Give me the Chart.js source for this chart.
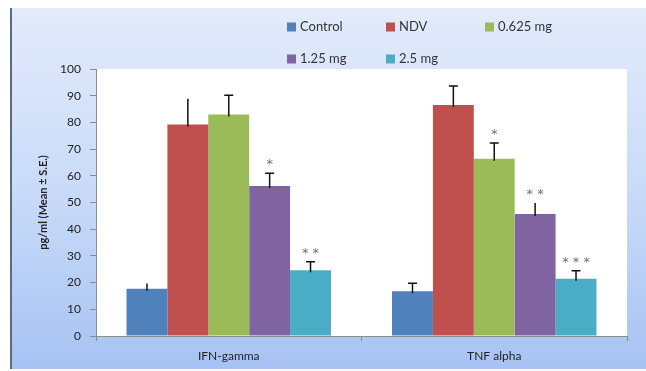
<!DOCTYPE html>
<html>
<head>
<meta charset="utf-8">
<script src="https://cdn.jsdelivr.net/npm/chart.js@4.4.1/dist/chart.umd.min.js"></script>
<style>
  html, body { margin: 0; padding: 0; background: #fff; }
  #wrap { width: 646px; height: 371px; position: relative; }
</style>
</head>
<body>
<div id="wrap"><canvas id="chart" width="646" height="371"></canvas></div>
<script>
(function () {
    "use strict";

    // data
    const categories = ["IFN-gamma", "TNF alpha"];
    const seriesNames = ["Control", "NDV", "0.625 mg", "1.25 mg", "2.5 mg"];
    const seriesColors = ["#4f81bd", "#c0504d", "#9bbb59", "#8064a2", "#4bacc6"];
    const control = [17.7, 16.8];
    const ndv = [79.2, 86.5];
    const mg0625 = [83.0, 66.4];
    const mg125 = [56.2, 45.7];
    const mg25 = [24.6, 21.4];
    // standard errors
    const errControl = [2.0, 3.0];
    const errNdv = [9.7, 7.1];
    const errMg0625 = [7.2, 5.9];
    const errMg125 = [4.8, 4.1];
    const errMg25 = [3.2, 3.0];
    // whether the error bar has a cap
    const capControl = [false, true];
    const capNdv = [false, true];
    const capMg0625 = [true, true];
    const capMg125 = [true, false];
    const capMg25 = [true, true];
    // significance marks
    const starsControl = ["", ""];
    const starsNdv = ["", ""];
    const starsMg0625 = ["", "*"];
    const starsMg125 = ["*", "**"];
    const starsMg25 = ["**", "***"];
    const yTicks = [0, 10, 20, 30, 40, 50, 60, 70, 80, 90, 100];

    const values = [control, ndv, mg0625, mg125, mg25];
    const errors = [errControl, errNdv, errMg0625, errMg125, errMg25];
    const caps = [capControl, capNdv, capMg0625, capMg125, capMg25];
    const stars = [starsControl, starsNdv, starsMg0625, starsMg125, starsMg25];

    const FONT = "Lato, 'Open Sans', sans-serif";

    // light blue frame behind the chart
    const framePlugin = {
        id: "frame",
        beforeDraw(chart) {
            const ctx = chart.ctx;
            const w = chart.width, h = chart.height;
            ctx.save();
            const g = ctx.createLinearGradient(0, 8, 0, h - 2);
            g.addColorStop(0, "#e3ebfb");
            g.addColorStop(0.5, "#c9dbf8");
            g.addColorStop(1, "#a7c3f3");
            ctx.fillStyle = g;
            ctx.fillRect(10, 8, w - 10, h - 10);
            ctx.strokeStyle = "#5b6b80";
            ctx.lineWidth = 2;
            ctx.beginPath();
            ctx.moveTo(11, 8);
            ctx.lineTo(11, h - 2);
            ctx.stroke();
            const a = chart.chartArea;
            ctx.fillStyle = "#ffffff";
            ctx.fillRect(a.left, a.top, a.right - a.left, a.bottom - a.top);
            ctx.restore();
        }
    };

    // error bars and asterisks
    const errorPlugin = {
        id: "errorBars",
        afterDatasetsDraw(chart) {
            const ctx = chart.ctx;
            const y = chart.scales.y;
            ctx.save();
            chart.data.datasets.forEach((ds, di) => {
                const meta = chart.getDatasetMeta(di);
                meta.data.forEach((bar, i) => {
                    const top = y.getPixelForValue(values[di][i] + errors[di][i]);
                    const base = y.getPixelForValue(values[di][i]);
                    ctx.strokeStyle = "#111";
                    ctx.lineWidth = 1.5;
                    ctx.beginPath();
                    ctx.moveTo(bar.x, base + 2);
                    ctx.lineTo(bar.x, top);
                    if (caps[di][i]) {
                        ctx.moveTo(bar.x - 4.5, top);
                        ctx.lineTo(bar.x + 4.5, top);
                    }
                    ctx.stroke();
                    if (stars[di][i]) {
                        ctx.fillStyle = "#707070";
                        ctx.font = "13px 'DejaVu Sans', sans-serif";
                        ctx.textAlign = "center";
                        ctx.textBaseline = "alphabetic";
                        const s = stars[di][i].split("").join(" ");
                        ctx.fillText(s, bar.x, top - 5);
                    }
                });
            });
            ctx.restore();
        }
    };

    // legend in fixed columns, two rows
    const legendPlugin = {
        id: "gridLegend",
        afterDraw(chart, args, opts) {
            const ctx = chart.ctx;
            ctx.save();
            ctx.font = "13px " + FONT;
            ctx.textBaseline = "middle";
            ctx.textAlign = "left";
            chart.data.datasets.forEach((ds, i) => {
                const col = i % opts.perRow;
                const row = Math.floor(i / opts.perRow);
                const x = opts.left + col * opts.colWidth;
                const yy = opts.top + row * opts.rowHeight;
                ctx.fillStyle = ds.backgroundColor;
                ctx.fillRect(x, yy - 4.5, 9, 9);
                ctx.fillStyle = "#333";
                ctx.fillText(ds.label, x + 13, yy);
            });
            ctx.restore();
        }
    };

    const ctx = document.getElementById("chart").getContext("2d");
    new Chart(ctx, {
        type: "bar",
        data: {
            labels: categories,
            datasets: seriesNames.map((name, i) => ({
                label: name,
                data: values[i],
                backgroundColor: seriesColors[i],
                borderWidth: 0,
                categoryPercentage: 0.77,
                barPercentage: 1.0
            }))
        },
        options: {
            responsive: false,
            animation: false,
            devicePixelRatio: 1,
            layout: { padding: { left: 10, right: 19, top: 69, bottom: 0 } },
            plugins: {
                legend: { display: false },
                tooltip: { enabled: false },
                gridLegend: { left: 287, top: 27, perRow: 3, colWidth: 99, rowHeight: 32 }
            },
            scales: {
                x: {
                    grid: {
                        display: true,
                        drawOnChartArea: false,
                        offset: true,
                        tickLength: 5,
                        color: "#8c8c8c"
                    },
                    border: { color: "#8c8c8c", width: 1 },
                    ticks: {
                        color: "#222",
                        padding: 8,
                        font: { family: FONT, size: 12 }
                    },
                    afterFit(s) { s.height = 35; }
                },
                y: {
                    min: 0,
                    max: 100,
                    afterBuildTicks(s) { s.ticks = yTicks.map(v => ({ value: v })); },
                    grid: {
                        display: true,
                        drawOnChartArea: false,
                        tickLength: 6,
                        color: "#8c8c8c"
                    },
                    border: { color: "#8c8c8c", width: 1 },
                    ticks: {
                        color: "#222",
                        padding: 9,
                        font: { family: FONT, size: 12 }
                    },
                    title: {
                        display: true,
                        text: "pg/ml (Mean \u00b1 S.E.)",
                        color: "#222",
                        padding: { top: 27, bottom: 0 },
                        font: { family: FONT, size: 11, weight: "bold" }
                    },
                    afterFit(s) { s.width = 86; }
                }
            }
        },
        plugins: [framePlugin, errorPlugin, legendPlugin]
    });
})();
</script>
</body>
</html>
